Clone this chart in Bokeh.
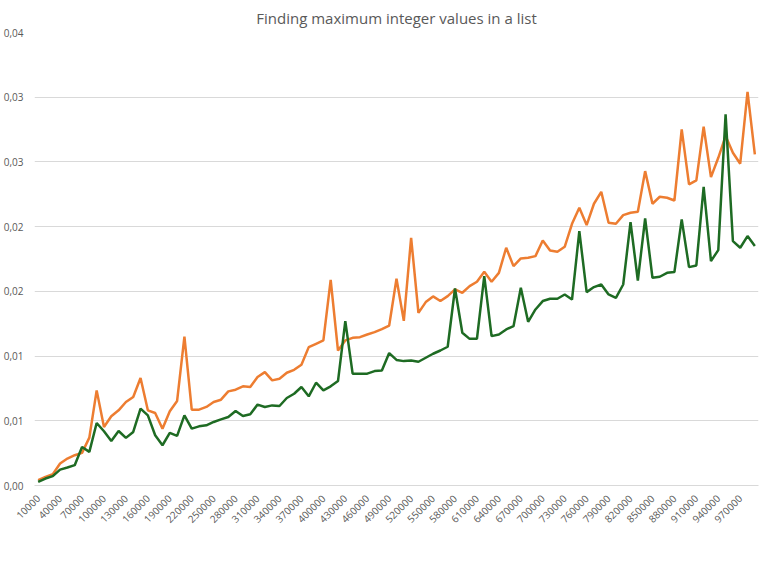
from bokeh.plotting import figure
from bokeh.models import FixedTicker, Legend, Range1d
from bokeh.embed import file_html
from bokeh.resources import INLINE

sizes = [10000 * (i + 1) for i in range(99)]

find_time = [
    0.00041, 0.00067, 0.00087, 0.00170, 0.00208, 0.00234, 0.00252, 0.00370, 0.00735, 0.00452,
    0.00535, 0.00581, 0.00645, 0.00684, 0.00830, 0.00581, 0.00560, 0.00439, 0.00573, 0.00653,
    0.01151, 0.00586, 0.00586, 0.00607, 0.00645, 0.00663, 0.00727, 0.00740, 0.00766, 0.00761,
    0.00838, 0.00876, 0.00812, 0.00825, 0.00871, 0.00894, 0.00933, 0.01069, 0.01095, 0.01121,
    0.01588, 0.01043, 0.01121, 0.01141, 0.01146, 0.01167, 0.01185, 0.01208, 0.01236, 0.01597,
    0.01272, 0.01914, 0.01334, 0.01417, 0.01461, 0.01425, 0.01463, 0.01515, 0.01489, 0.01540,
    0.01574, 0.01651, 0.01574, 0.01643, 0.01837, 0.01695, 0.01754, 0.01759, 0.01772, 0.01893,
    0.01816, 0.01806, 0.01844, 0.02022, 0.02146, 0.02012, 0.02177, 0.02269, 0.02030, 0.02022,
    0.02089, 0.02107, 0.02115, 0.02429, 0.02177, 0.02231, 0.02223, 0.02202, 0.02751, 0.02326,
    0.02357, 0.02772, 0.02383, 0.02532, 0.02700, 0.02571, 0.02486, 0.03042, 0.02558,
]

library_time = [
    0.00028, 0.00054, 0.00072, 0.00123, 0.00139, 0.00157, 0.00298, 0.00260, 0.00483, 0.00419,
    0.00344, 0.00421, 0.00368, 0.00414, 0.00594, 0.00542, 0.00388, 0.00311, 0.00406, 0.00383,
    0.00542, 0.00439, 0.00457, 0.00465, 0.00491, 0.00511, 0.00529, 0.00576, 0.00537, 0.00550,
    0.00625, 0.00607, 0.00619, 0.00614, 0.00676, 0.00709, 0.00761, 0.00689, 0.00794, 0.00735,
    0.00766, 0.00807, 0.01270, 0.00864, 0.00864, 0.00864, 0.00884, 0.00889, 0.01023, 0.00970,
    0.00961, 0.00966, 0.00956, 0.00987, 0.01018, 0.01043, 0.01072, 0.01522, 0.01180, 0.01133,
    0.01133, 0.01618, 0.01154, 0.01167, 0.01206, 0.01231, 0.01528, 0.01265, 0.01360, 0.01425,
    0.01443, 0.01443, 0.01476, 0.01437, 0.01965, 0.01494, 0.01533, 0.01553, 0.01476, 0.01450,
    0.01553, 0.02035, 0.01584, 0.02063, 0.01605, 0.01613, 0.01643, 0.01649, 0.02056, 0.01687,
    0.01700, 0.02308, 0.01734, 0.01819, 0.02867, 0.01888, 0.01837, 0.01927, 0.01850,
]

y_ticks = [0.0, 0.005, 0.01, 0.015, 0.02, 0.025, 0.03, 0.035]
y_labels = ["0,00", "0,01", "0,01", "0,02", "0,02", "0,03", "0,03", "0,04"]
x_ticks = sizes[::3]

grey = "#595959"
font = "Open Sans"

p = figure(frame_width=724, frame_height=453, output_backend="svg", toolbar_location=None,
           title="Finding maximum integer values in a list",
           x_range=Range1d(5000, 995000), y_range=Range1d(0, 0.035),
           min_border_left=33, min_border_right=7, min_border_top=10, min_border_bottom=5)
p.outline_line_color = None
p.title.align = "center"
p.title.text_font = font
p.title.text_font_size = "15px"
p.title.text_font_style = "normal"
p.title.text_color = grey

r1 = p.line(sizes, find_time, line_width=2.5, color="#ed7d31")
r2 = p.line(sizes, library_time, line_width=2.5, color="#1e6b23")

p.yaxis.ticker = FixedTicker(ticks=y_ticks)
p.yaxis.major_label_overrides = {t: l for t, l in zip(y_ticks, y_labels)}
p.yaxis.axis_line_color = None
p.yaxis.major_tick_line_color = None
p.yaxis.minor_tick_line_color = None

p.xaxis.ticker = FixedTicker(ticks=x_ticks)
p.xaxis.major_label_overrides = {t: str(t) for t in x_ticks}
p.xaxis.major_label_orientation = 0.785
p.xaxis.axis_line_color = "#d9d9d9"
p.xaxis.major_tick_line_color = None
p.xaxis.minor_tick_line_color = None

for ax in (p.xaxis, p.yaxis):
    ax.major_label_text_font = font
    ax.major_label_text_font_size = "10px"
    ax.major_label_text_color = grey

p.xgrid.grid_line_color = None
p.ygrid.grid_line_color = "#d9d9d9"

legend = Legend(items=[("Function Find Time (s)", [r1]), ("Library Function Time (s)", [r2])],
                orientation="horizontal", location="top_center")
legend.border_line_color = None
legend.label_text_font = font
legend.label_text_font_size = "10px"
legend.label_text_color = grey
legend.glyph_width = 25
legend.spacing = 30
legend.padding = 2
legend.margin = 4
p.add_layout(legend, "below")

open("out.html", "w").write(file_html(p, INLINE))
